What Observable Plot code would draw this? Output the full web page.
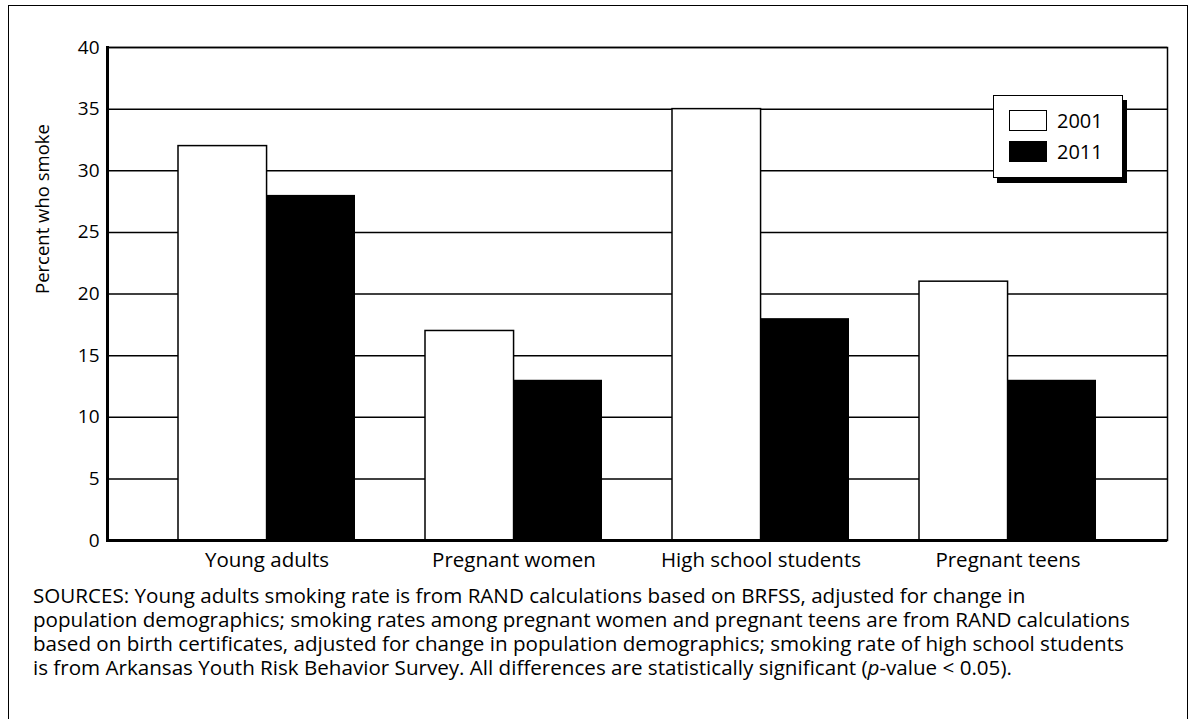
<!DOCTYPE html>
<html>
<head>
<meta charset="utf-8">
<script src="https://cdn.jsdelivr.net/npm/d3@7"></script>
<script src="https://cdn.jsdelivr.net/npm/@observablehq/plot@0.6"></script>
<style>
  html, body { margin: 0; padding: 0; background: #fff; }
  #fig { position: relative; width: 1194px; height: 719px; overflow: hidden; font-family: "Open Sans", sans-serif; font-weight: 500; color: #000; }
  #border { position: absolute; left: 8px; top: 5px; width: 1180px; height: 760px; border: 1.5px solid #000; box-sizing: border-box; }
  #chart { position: absolute; left: 0; top: 0; }
  #legend { position: absolute; left: 993px; top: 95px; width: 130px; height: 83px; border: 1.5px solid #000; background: #fff; box-shadow: 4px 5px 0 #000; box-sizing: border-box; }
  .lg-row { position: absolute; left: 15px; display: flex; align-items: center; }
  .lg-sw { width: 38px; height: 21px; box-sizing: border-box; border: 1.5px solid #000; }
  .lg-tx { margin-left: 10px; font-size: 20px; line-height: 21px; }
  #sources { position: absolute; left: 33px; top: 583px; width: 1150px; font-size: 20.6px; line-height: 24px; white-space: nowrap; }
</style>
</head>
<body>
<div id="fig">
  <div id="border"></div>
  <div id="chart"></div>
  <div id="legend"></div>
  <div id="sources">SOURCES: Young adults smoking rate is from RAND calculations based on BRFSS, adjusted for change in<br>population demographics; smoking rates among pregnant women and pregnant teens are from RAND calculations<br>based on birth certificates, adjusted for change in population demographics; smoking rate of high school students<br>is from Arkansas Youth Risk Behavior Survey. All differences are statistically significant (<i>p</i>-value &lt; 0.05).</div>
</div>
<script>
// ---- data ----
const categories = ["Young adults", "Pregnant women", "High school students", "Pregnant teens"];
const years = ["2001", "2011"];
const values2001 = [32, 17, 35, 21];
const values2011 = [28, 13, 18, 13];
const yTicks = [0, 5, 10, 15, 20, 25, 30, 35, 40];
const yLabel = "Percent who smoke";
const yearColors = ["white", "black"];

const data = categories.map((c, i) => ({category: c, v2001: values2001[i], v2011: values2011[i]}));

// ---- layout ----
const W = 1194, H = 576;
const mL = 107, mR = 27, mT = 47, mB = 36;
const pad = 0.285;
const step = (W - mL - mR) / (categories.length - pad + 2 * pad);
const half = step * (1 - pad) / 2;

const chart = Plot.plot({
  width: W, height: H,
  marginLeft: mL, marginRight: mR, marginTop: mT, marginBottom: mB,
  style: {fontFamily: "'Open Sans', sans-serif", fontSize: "19px", fontWeight: 500, color: "black", background: "transparent", overflow: "visible"},
  x: {domain: categories, padding: pad, label: null},
  y: {domain: [0, 40], label: null},
  marks: [
    Plot.ruleY(yTicks, {stroke: "black", strokeWidth: 1.5}),
    Plot.barY(data, {x: "category", y: "v2001", fill: yearColors[0], stroke: "black", strokeWidth: 1.5, insetRight: half}),
    Plot.barY(data, {x: "category", y: "v2011", fill: yearColors[1], insetLeft: half}),
    Plot.frame({stroke: "black", strokeWidth: 1.5}),
    Plot.ruleY([0], {stroke: "black", strokeWidth: 3}),
    Plot.frame({anchor: "left", stroke: "black", strokeWidth: 3}),
    Plot.axisY(yTicks, {tickSize: 0, tickPadding: 8, fontSize: 19, label: null}),
    Plot.axisX({tickSize: 0, tickPadding: 12, fontSize: 20.5, label: null}),
    Plot.text([yLabel], {frameAnchor: "left", rotate: -90, dx: -64, fontSize: 18.5, fill: "black"})
  ]
});
document.getElementById("chart").appendChild(chart);

// ---- legend ----
const legend = document.getElementById("legend");
years.forEach((yr, i) => {
  const row = document.createElement("div");
  row.className = "lg-row";
  row.style.top = (14 + i * 31) + "px";
  const sw = document.createElement("div");
  sw.className = "lg-sw";
  sw.style.background = yearColors[i];
  const tx = document.createElement("span");
  tx.className = "lg-tx";
  tx.textContent = yr;
  row.appendChild(sw); row.appendChild(tx);
  legend.appendChild(row);
});
</script>
</body>
</html>
